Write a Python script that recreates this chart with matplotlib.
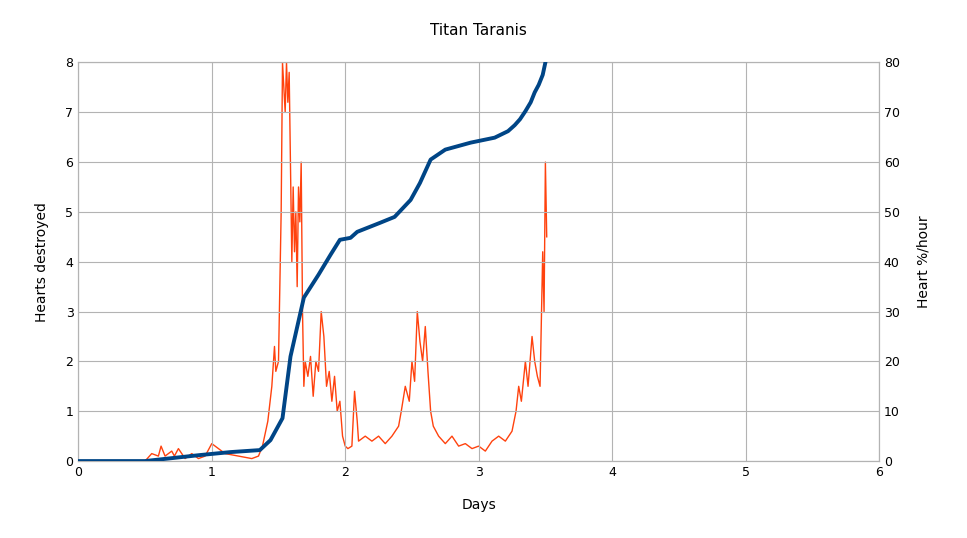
import matplotlib
matplotlib.use("Agg")
import matplotlib.pyplot as plt

# cumulative hearts destroyed (left axis)
blue_days = [0, 0.5, 0.91, 1.14, 1.36, 1.44, 1.53, 1.59, 1.69, 1.8, 1.89, 1.96, 2.04, 2.09,
             2.26, 2.37, 2.49, 2.56, 2.64, 2.75, 2.94, 3.12, 3.22, 3.27, 3.31, 3.35, 3.39,
             3.42, 3.45, 3.48, 3.5]
blue_hearts = [0, 0, 0.12, 0.18, 0.22, 0.42, 0.86, 2.1, 3.28, 3.74, 4.14, 4.44, 4.48, 4.6,
               4.78, 4.9, 5.24, 5.58, 6.05, 6.25, 6.39, 6.49, 6.62, 6.74, 6.86, 7.02, 7.2,
               7.4, 7.55, 7.75, 8.0]

# heart %/hour (right axis)
rate_days = [0, 0.5, 0.55, 0.6, 0.62, 0.65, 0.7, 0.72, 0.75, 0.8, 0.85, 0.9, 0.95, 1.0, 1.05,
             1.1, 1.2, 1.3, 1.35, 1.38, 1.42, 1.45, 1.47, 1.48, 1.5, 1.52, 1.53, 1.55, 1.56,
             1.57, 1.58, 1.6, 1.61, 1.62, 1.63, 1.64, 1.65, 1.66, 1.67, 1.68, 1.69, 1.7, 1.72,
             1.74, 1.76, 1.78, 1.8, 1.82, 1.84, 1.86, 1.88, 1.9, 1.92, 1.94, 1.96, 1.98, 2.0,
             2.02, 2.05, 2.07, 2.09, 2.1, 2.15, 2.2, 2.25, 2.3, 2.35, 2.4, 2.42, 2.45, 2.48,
             2.5, 2.52, 2.54, 2.56, 2.58, 2.6, 2.62, 2.64, 2.66, 2.7, 2.75, 2.8, 2.85, 2.9,
             2.95, 3.0, 3.05, 3.1, 3.15, 3.2, 3.25, 3.28, 3.3, 3.32, 3.35, 3.37, 3.4, 3.42,
             3.44, 3.46, 3.48, 3.49, 3.5, 3.51]
rate_values = [0, 0, 1.5, 1, 3, 1, 2, 1, 2.5, 0.5, 1.5, 0.5, 1, 3.5, 2.5,
               1.5, 1, 0.5, 1, 3, 8, 15, 23, 18, 20, 50, 80, 70, 80,
               72, 78, 40, 55, 42, 50, 35, 55, 48, 60, 30, 15, 20, 17,
               21, 13, 20, 18, 30, 25, 15, 18, 12, 17, 10, 12, 5, 3,
               2.5, 3, 14, 8, 4, 5, 4, 5, 3.5, 5, 7, 10, 15, 12,
               20, 16, 30, 24, 20, 27, 18, 10, 7, 5, 3.5, 5, 3, 3.5,
               2.5, 3, 2, 4, 5, 4, 6, 10, 15, 12, 20, 15, 25, 20,
               17, 15, 42, 30, 60, 45]

plt.rcParams["font.family"] = ["DejaVu Sans"]
fig, ax = plt.subplots(figsize=(9.67, 5.38), dpi=100)
fig.subplots_adjust(left=0.081, right=0.909, top=0.884, bottom=0.143)
ax2 = ax.twinx()

ax2.plot(rate_days, rate_values, color="#ff420e", lw=1.0)
ax.plot(blue_days, blue_hearts, color="#004586", lw=2.8, zorder=5)
ax.set_zorder(ax2.get_zorder() + 1)
ax.patch.set_visible(False)

ax.set_xlim(0, 6)
ax.set_ylim(0, 8)
ax2.set_ylim(0, 80)
ax.grid(True, color="#b3b3b3", lw=0.8)
for a in (ax, ax2):
    for s in a.spines.values():
        s.set_color("#b3b3b3")
    a.tick_params(length=0, labelsize=9)

ax.set_title("Titan Taranis", fontsize=11, pad=20)
ax.set_xlabel("Days", fontsize=10, labelpad=14)
ax.set_ylabel("Hearts destroyed", fontsize=10, labelpad=12)
ax2.set_ylabel("Heart %/hour", fontsize=10, labelpad=12)

fig.savefig("out.png", dpi=100)
